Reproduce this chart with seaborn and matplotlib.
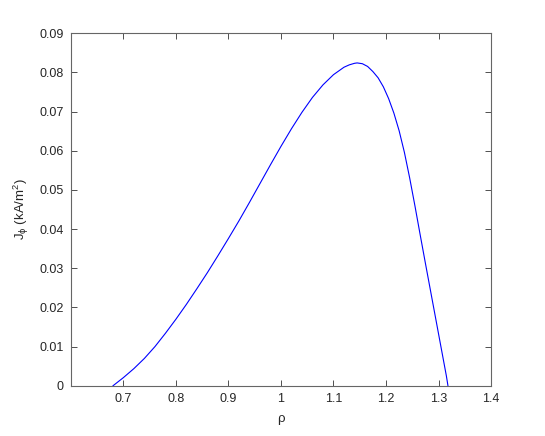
import matplotlib
matplotlib.use("Agg")
from matplotlib import pyplot as plt
import seaborn as sns
import pandas as pd

# values
rho = [0.68, 0.70, 0.72, 0.74, 0.76, 0.78, 0.80, 0.82, 0.84, 0.86,
       0.88, 0.90, 0.92, 0.94, 0.96, 0.98, 1.00, 1.02, 1.04, 1.06,
       1.08, 1.10, 1.12, 1.13, 1.14, 1.145, 1.155, 1.165, 1.175, 1.185,
       1.195, 1.205, 1.215, 1.225, 1.235, 1.245, 1.255, 1.265, 1.275, 1.285,
       1.295, 1.305, 1.315, 1.318]
j_phi = [0.0, 0.0021, 0.0044, 0.0070, 0.0100, 0.0134, 0.0170, 0.0208, 0.0248, 0.0289,
         0.0332, 0.0376, 0.0421, 0.0468, 0.0516, 0.0564, 0.0611, 0.0656, 0.0698, 0.0736,
         0.0768, 0.0794, 0.0813, 0.0819, 0.0823, 0.0824, 0.0822, 0.0815, 0.0802, 0.0786,
         0.0763, 0.0733, 0.0696, 0.0651, 0.0596, 0.0531, 0.0460, 0.0386, 0.0313, 0.0241,
         0.0169, 0.0097, 0.0025, 0.0]

x_ticks = [0.7, 0.8, 0.9, 1.0, 1.1, 1.2, 1.3, 1.4]
x_labels = ["0.7", "0.8", "0.9", "1", "1.1", "1.2", "1.3", "1.4"]
y_ticks = [0, 0.01, 0.02, 0.03, 0.04, 0.05, 0.06, 0.07, 0.08, 0.09]
y_labels = ["0", "0.01", "0.02", "0.03", "0.04", "0.05", "0.06", "0.07", "0.08", "0.09"]

sns.set_style("ticks")
plt.rcParams["font.family"] = ["Liberation Sans", "DejaVu Sans"]
plt.rcParams["mathtext.fontset"] = "custom"
plt.rcParams["mathtext.rm"] = "Liberation Sans"
plt.rcParams["mathtext.it"] = "Liberation Sans:italic"
plt.rcParams["mathtext.default"] = "regular"

df = pd.DataFrame({"rho": rho, "j": j_phi})

fig = plt.figure(figsize=(5.45, 4.36), dpi=100)
ax = fig.add_axes([0.130, 0.115, 0.771, 0.809])
sns.lineplot(data=df, x="rho", y="j", ax=ax, sort=False, color="blue", linewidth=0.8)

ax.set_xlim(0.6, 1.4)
ax.set_ylim(0, 0.09)
ax.set_xticks(x_ticks)
ax.set_xticklabels(x_labels)
ax.set_yticks(y_ticks)
ax.set_yticklabels(y_labels)
ax.tick_params(direction="in", top=True, right=True, length=4, width=0.6,
               color="0.2", labelsize=9, pad=5)
for s in ax.spines.values():
    s.set_color("0.4")
    s.set_linewidth(0.8)
ax.set_xlabel("ρ", fontsize=9.5, labelpad=6)
ax.set_ylabel(r"J$_\phi$ (kA/m$^2$)", fontsize=9.5, labelpad=6)

fig.savefig("out.png", dpi=100)
